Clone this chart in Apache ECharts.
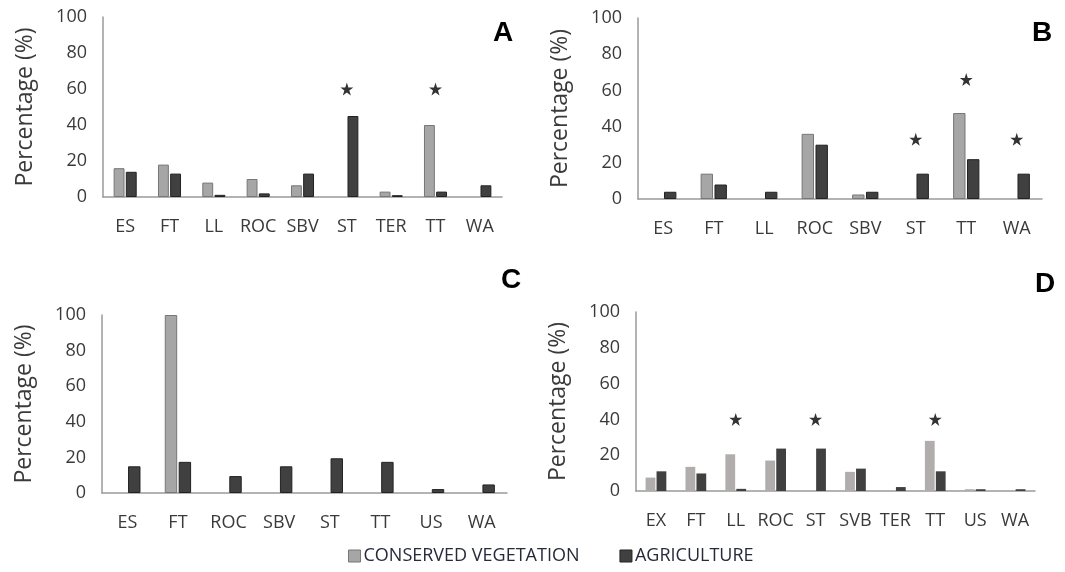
<!DOCTYPE html>
<html><head><meta charset="utf-8">
<script src="https://cdn.jsdelivr.net/npm/echarts@6/dist/echarts.min.js"></script>
<style>html,body{margin:0;padding:0;background:#fff}#c{width:1065px;height:572px}</style>
</head><body><div id="c"></div>
<script>
// Panel A
const catsA = ['ES','FT','LL','ROC','SBV','ST','TER','TT','WA'];
const consA = [16, 18, 8, 10, 6.5, 0, 3, 40, 0];
const agriA = [14, 13, 1.2, 2, 13, 45, 1, 3, 6.5];
const starsA = [['ST', 60], ['TT', 60]];
// Panel B
const catsB = ['ES','FT','LL','ROC','SBV','ST','TT','WA'];
const consB = [0, 14, 0, 36, 2.5, 0, 47.5, 0];
const agriB = [4, 8, 4, 30, 4, 14, 22, 14];
const starsB = [['ST', 33], ['TT', 66], ['WA', 33]];
// Panel C
const catsC = ['ES','FT','ROC','SBV','ST','TT','US','WA'];
const consC = [0, 100, 0, 0, 0, 0, 0, 0];
const agriC = [15, 17.5, 9.5, 15, 19.5, 17.5, 2.2, 4.8];
const starsC = [];
// Panel D
const catsD = ['EX','FT','LL','ROC','ST','SVB','TER','TT','US','WA'];
const consD = [7.5, 13.5, 20.5, 17, 0, 10.7, 0, 28, 1, 0];
const agriD = [11, 9.8, 1.2, 23.7, 23.7, 12.5, 2.2, 11, 1, 1];
const starsD = [['LL', 40], ['ST', 40], ['TT', 40]];
const yTicks = [0, 20, 40, 60, 80, 100];
const panelLabels = ['A', 'B', 'C', 'D'];
const seriesNames = ['CONSERVED VEGETATION', 'AGRICULTURE'];

const FONT = 'Open Sans';
const TXT = '#3a3a3a';
const grids = [
  {left: 103, top: 17, width: 399, height: 180},
  {left: 638, top: 18, width: 404, height: 181},
  {left: 102, top: 315, width: 405, height: 178},
  {left: 636, top: 312, width: 399, height: 179}
];
const titlePos = [
  {left: 488, top: 14}, {left: 1027, top: 14}, {left: 496, top: 261}, {left: 1030, top: 265}
];
const panels = [
  [catsA, consA, agriA, starsA],
  [catsB, consB, agriB, starsB],
  [catsC, consC, agriC, starsC],
  [catsD, consD, agriD, starsD]
];
const starPath = 'path://M50,0 L61.8,35.4 L100,35.4 L69.1,57.3 L80.9,93.5 L50,71.6 L19.1,93.5 L30.9,57.3 L0,35.4 L38.2,35.4 Z';
const noZero = arr => arr.map(v => (v === 0 ? '-' : v));

const xAxis = [], yAxis = [], series = [], title = [];
panels.forEach((p, i) => {
  const [cats, cons, agri, stars] = p;
  title.push({text: panelLabels[i], left: titlePos[i].left, top: titlePos[i].top,
    textStyle: {fontFamily: 'Liberation Sans', fontWeight: 'bold', fontSize: 28, color: '#000'}});
  xAxis.push({type: 'category', gridIndex: i, data: cats,
    axisLine: {lineStyle: {color: '#9a9a9a', width: 1.5}}, axisTick: {show: false},
    axisLabel: {margin: 21, fontFamily: FONT, fontSize: 18, color: TXT, interval: 0}});
  yAxis.push({type: 'value', gridIndex: i, min: yTicks[0], max: yTicks[yTicks.length - 1], interval: 20,
    splitLine: {show: false}, axisTick: {show: false},
    axisLine: {show: true, lineStyle: {color: '#9a9a9a', width: 1.5}},
    axisLabel: {margin: 16, fontFamily: FONT, fontSize: 18, color: TXT},
    name: 'Percentage (%)', nameLocation: 'middle', nameGap: 66,
    nameTextStyle: {fontFamily: FONT, fontSize: 23, color: TXT}});
  const outline = i < 3;
  series.push({name: seriesNames[0], type: 'bar', xAxisIndex: i, yAxisIndex: i, data: noZero(cons),
    barCategoryGap: '48%', barGap: '12%',
    itemStyle: {color: outline ? '#a6a6a6' : '#b0adac', borderColor: outline ? '#777' : '#b0adac', borderWidth: outline ? 1 : 0}});
  series.push({name: seriesNames[1], type: 'bar', xAxisIndex: i, yAxisIndex: i, data: noZero(agri),
    barCategoryGap: '48%', barGap: '12%',
    itemStyle: {color: '#404040', borderColor: '#222', borderWidth: outline ? 1 : 0}});
  series.push({type: 'scatter', xAxisIndex: i, yAxisIndex: i, data: stars,
    symbol: starPath, symbolSize: 13, itemStyle: {color: '#000'}, z: 5, silent: true});
});

const chart = echarts.init(document.getElementById('c'));
chart.setOption({
  animation: false,
  title: title,
  grid: grids,
  xAxis: xAxis,
  yAxis: yAxis,
  legend: {data: [
      {name: seriesNames[0], itemStyle: {color: '#a6a6a6', borderColor: '#777', borderWidth: 1}},
      {name: seriesNames[1], itemStyle: {color: '#404040', borderColor: '#222', borderWidth: 1}}],
    left: 343, top: 542, itemWidth: 12, itemHeight: 12, itemGap: 40, icon: 'rect',
    textStyle: {fontFamily: FONT, fontSize: 18, color: '#262a3a', padding: [0, 0, 0, -2]}},
  series: series
});
</script></body></html>
